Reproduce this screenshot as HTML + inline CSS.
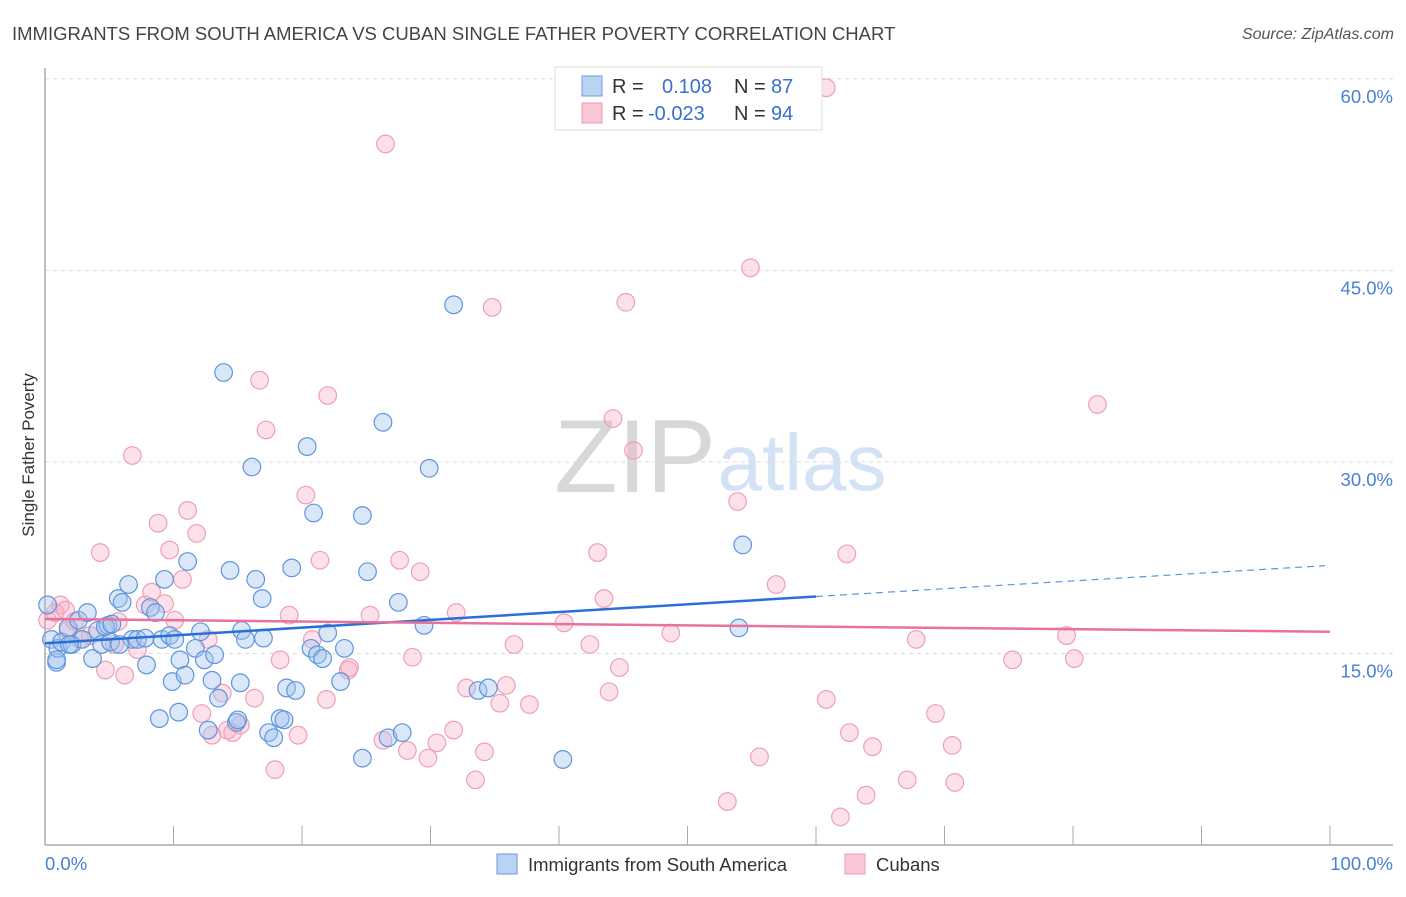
<!DOCTYPE html>
<html><head><meta charset="utf-8"><style>
body{margin:0;background:#fff;font-family:"Liberation Sans",sans-serif}
svg text{font-family:"Liberation Sans",sans-serif}
</style></head><body>
<svg id="chart" width="1406" height="892" xmlns="http://www.w3.org/2000/svg">
<text x="12" y="40" font-size="18.5" fill="#444">IMMIGRANTS FROM SOUTH AMERICA VS CUBAN SINGLE FATHER POVERTY CORRELATION CHART</text>
<text x="1394" y="39" font-size="16" fill="#555" font-style="italic" text-anchor="end">Source: ZipAtlas.com</text>
<g>
<text x="635" y="492" font-size="104" fill="#d8d8d8" font-family="Liberation Serif" text-anchor="middle">ZIP</text>
<text x="802" y="490" font-size="80" fill="#d3e2f5" text-anchor="middle">atlas</text>
</g>
<g id="grid"></g>
<g id="axes"></g>
<g id="pts"></g>
<g id="lines"></g>
<text transform="translate(34,455) rotate(-90)" font-size="17" fill="#333" text-anchor="middle">Single Father Poverty</text>
<g>
<rect x="555" y="67" width="267" height="63" fill="#fff" stroke="#ddd"/>
<rect x="582" y="76" width="20" height="20" fill="#b9d3f5" stroke="#6a9be0"/>
<rect x="582" y="103" width="20" height="20" fill="#f9c8d6" stroke="#ec9ab3"/>
<text x="612" y="93" font-size="20" fill="#333">R = </text><text x="662" y="93" font-size="20" fill="#3a70d0">0.108</text>
<text x="734" y="93" font-size="20" fill="#333">N = </text><text x="771" y="93" font-size="20" fill="#3a70d0">87</text>
<text x="612" y="120" font-size="20" fill="#333">R = </text><text x="648" y="120" font-size="20" fill="#3a70d0">-0.023</text>
<text x="734" y="120" font-size="20" fill="#333">N = </text><text x="771" y="120" font-size="20" fill="#3a70d0">94</text>
</g>
<g>
<rect x="497" y="854" width="20" height="20" fill="#b9d3f5" stroke="#6a9be0"/>
<text x="528" y="871" font-size="18.5" fill="#333">Immigrants from South America</text>
<rect x="845" y="854" width="20" height="20" fill="#f9c8d6" stroke="#ec9ab3"/>
<text x="876" y="871" font-size="18.5" fill="#333">Cubans</text>
</g>
</svg>
<script>
const yTicks=[15,30,45,60];
const yTickLabels=["15.0%","30.0%","45.0%","60.0%"];
const blueX=[0.2,0.5,0.9,1.0,1.3,1.8,2.1,2.6,2.9,3.3,3.7,4.1,4.4,4.9,5.1,5.7,6.0,6.5,6.8,7.2,7.8,7.9,8.2,8.6,8.9,9.1,9.3,9.7,9.9,10.4,10.5,10.9,11.1,11.7,12.1,12.4,12.7,13.0,13.2,13.5,13.9,14.4,15.2,15.3,15.6,14.9,15.0,16.1,16.4,16.9,17.0,17.4,17.8,18.3,18.6,18.8,19.5,19.2,20.4,20.9,20.7,21.2,21.6,22.0,23.0,23.3,24.7,25.1,24.7,26.3,26.7,27.5,27.8,29.5,29.9,31.8,33.7,34.5,40.3,54.3,54.0,0.9,1.9,4.7,5.2,5.8,10.1];
const blueY=[18.8,16.1,14.3,15.4,15.9,17.0,15.7,17.6,16.1,18.2,14.6,16.8,15.7,17.2,15.9,19.3,19.0,20.4,16.1,16.1,16.2,14.1,18.6,18.2,9.9,16.1,20.8,16.4,12.8,10.4,14.5,13.3,22.2,15.4,16.7,14.5,9.0,12.9,14.9,11.5,37.0,21.5,12.7,16.8,16.1,9.6,9.8,29.6,20.8,19.3,16.2,8.8,8.4,9.9,9.8,12.3,12.1,21.7,31.2,26.0,15.4,14.9,14.6,16.6,12.8,15.4,25.8,21.4,6.8,33.1,8.4,19.0,8.8,17.2,29.5,42.3,12.1,12.3,6.7,23.5,17.0,14.5,15.7,17.1,17.3,15.7,16.1];
const pinkX=[0.2,0.8,1.2,1.6,1.8,2.3,2.7,3.5,4.3,4.7,5.4,5.7,6.2,6.8,7.2,7.8,8.3,8.8,9.3,9.7,10.1,10.7,11.1,11.8,12.2,12.7,13.0,13.8,14.2,14.6,15.2,16.3,16.7,17.2,17.9,18.3,19.0,19.7,20.3,20.8,21.4,21.9,22.0,23.6,23.7,25.3,26.3,26.5,27.6,28.2,28.6,29.2,29.8,30.5,31.8,32.0,32.8,33.5,34.2,34.8,35.4,35.9,36.5,37.7,40.4,42.4,43.0,43.5,43.9,44.2,44.7,45.2,45.8,48.7,53.1,53.9,54.9,55.6,56.9,60.8,61.9,62.4,62.6,63.9,64.4,67.1,67.8,69.3,70.6,70.8,75.3,79.5,80.1,81.9,60.8];
const pinkY=[17.6,18.2,18.8,18.4,16.8,17.5,16.1,16.4,22.9,13.7,15.7,17.5,13.3,30.5,15.3,18.8,19.8,25.2,18.9,23.1,17.6,20.8,26.2,24.4,10.3,16.1,8.6,11.9,9.0,8.8,9.4,11.5,36.4,32.5,5.9,14.5,18.0,8.6,27.4,16.1,22.3,11.4,35.2,13.7,13.9,18.0,8.2,54.9,22.3,7.4,14.7,21.4,6.8,8.0,9.0,18.2,12.3,5.1,7.3,42.1,11.1,12.5,15.7,11.0,17.4,15.7,22.9,19.3,12.0,33.4,13.9,42.5,30.9,16.6,3.4,26.9,45.2,6.9,20.4,11.4,2.2,22.8,8.8,3.9,7.7,5.1,16.1,10.3,7.8,4.9,14.5,16.4,14.6,34.5,59.3];
const blueTrend=[15.8,21.9];
const pinkTrend=[17.7,16.7];
const NS="http://www.w3.org/2000/svg";
function sx(v){return 45+v*12.85;}
function sy(v){return 845-v*12.77;}
function mk(tag,attrs,parent){const e=document.createElementNS(NS,tag);for(const k in attrs)e.setAttribute(k,attrs[k]);parent.appendChild(e);return e;}
const grid=document.getElementById('grid'),axes=document.getElementById('axes'),pts=document.getElementById('pts'),lines=document.getElementById('lines');
yTicks.forEach((t,i)=>{
 const l=mk('line',{x1:45,x2:1393,y1:sy(t),y2:sy(t),stroke:'#ddd','stroke-dasharray':'4,4'},grid);
 
 
 const tx=mk('text',{x:1393,y:sy(t)+24,'font-size':18.5,fill:'#4a7fd6','text-anchor':'end'},axes);
 tx.textContent=yTickLabels[i];
 
 
});
const ya=mk('line',{x1:45,x2:45,y1:68,y2:845,stroke:'#aaa','stroke-width':1.5},axes);


const xa=mk('line',{x1:45,x2:1393,y1:845,y2:845,stroke:'#aaa','stroke-width':1.5},axes);


for(let k=0;k<=10;k++){
 const t=mk('line',{x1:sx(k*10),x2:sx(k*10),y1:826,y2:845,stroke:'#aaa'},axes);
 
 
}
const x0=mk('text',{x:45,y:870,'font-size':18.5,fill:'#4a7fd6'},axes);x0.textContent='0.0%';


const x1=mk('text',{x:1393,y:870,'font-size':18.5,fill:'#4a7fd6','text-anchor':'end'},axes);x1.textContent='100.0%';


pinkX.forEach((x,i)=>{
 const c=mk('circle',{cx:sx(x),cy:sy(pinkY[i]),r:8.8,fill:'rgba(245,170,195,0.35)',stroke:'#eea0b8','stroke-width':1.2},pts);
 
 
});
blueX.forEach((x,i)=>{
 const c=mk('circle',{cx:sx(x),cy:sy(blueY[i]),r:8.8,fill:'rgba(160,195,240,0.4)',stroke:'#5f95dc','stroke-width':1.2},pts);
 
 
});
const bEnd=60;
const bAt=v=>blueTrend[0]+(blueTrend[1]-blueTrend[0])*v/100;
const bl=mk('line',{x1:sx(0),y1:sy(bAt(0)),x2:sx(bEnd),y2:sy(bAt(bEnd)),stroke:'#2a6fd6','stroke-width':2.5},lines);


const bd=mk('line',{x1:sx(bEnd),y1:sy(bAt(bEnd)),x2:sx(99.6),y2:sy(bAt(99.6)),stroke:'#5f95dc','stroke-width':1.2,'stroke-dasharray':'7,5'},lines);


const pl=mk('line',{x1:sx(0),y1:sy(pinkTrend[0]),x2:sx(100),y2:sy(pinkTrend[1]),stroke:'#e8729a','stroke-width':2.5},lines);


</script>
</body></html>
